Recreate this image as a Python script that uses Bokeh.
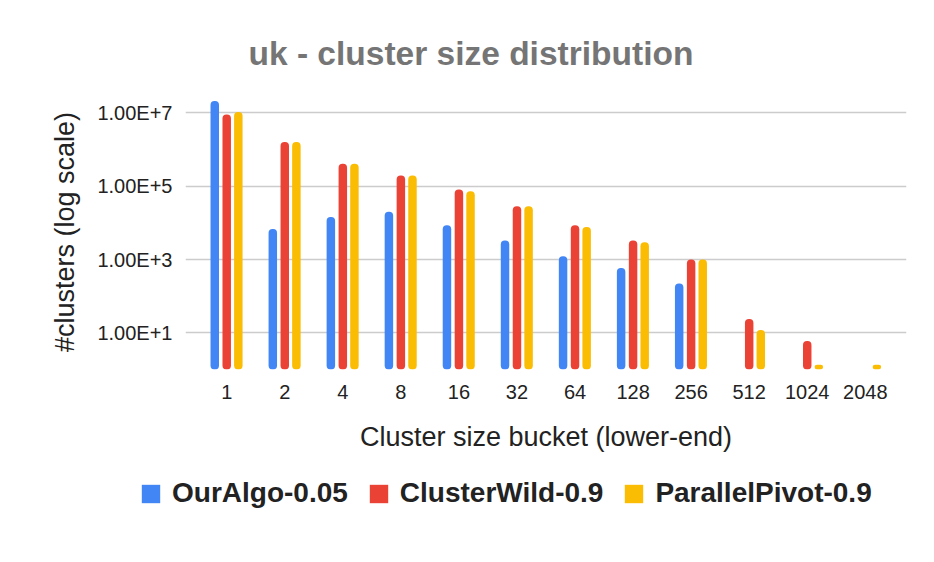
from bokeh.plotting import figure
from bokeh.models import (ColumnDataSource, Range1d, FixedTicker, CustomJSTickFormatter,
                          Legend, LegendItem)
from bokeh.layouts import column
from bokeh.embed import file_html
from bokeh.resources import INLINE

buckets = ["1", "2", "4", "8", "16", "32", "64", "128", "256", "512", "1024", "2048"]
ouralgo = [2.1e7, 6800, 14500, 20000, 8600, 3300, 1230, 590, 221, None, None, None]
clusterwild = [9.0e6, 1.6e6, 4.1e5, 1.96e5, 8.1e4, 2.85e4, 8600, 3300, 1000, 24, 6, None]
parallelpivot = [1.05e7, 1.6e6, 4.1e5, 1.96e5, 7.3e4, 2.85e4, 7700, 2960, 1000, 12, 1.35, 1.35]

series = [("OurAlgo-0.05", ouralgo, "#4285F4", -0.206),
          ("ClusterWild-0.9", clusterwild, "#EA4335", 0.0),
          ("ParallelPivot-0.9", parallelpivot, "#FBBC04", 0.2)]

FONT = "Liberation Sans"

p = figure(width=926, height=470, output_backend="svg", toolbar_location=None,
           y_axis_type="log", x_range=Range1d(-0.71, 11.71), y_range=Range1d(1, 10**7.5),
           min_border_left=185, min_border_top=94, min_border_right=20, min_border_bottom=101,
           title="uk - cluster size distribution")
p.outline_line_color = None
p.background_fill_color = "white"

p.title.text_font = FONT
p.title.text_font_size = "33.5px"
p.title.text_font_style = "bold"
p.title.text_color = "#757575"
p.title.align = "left"
p.title.offset = 63
p.title.standoff = 45

# legend-only figure below the chart
p2 = figure(frame_width=926, frame_height=84, output_backend="svg", toolbar_location=None,
            x_range=Range1d(100, 101), y_range=Range1d(0, 1),
            x_axis_location=None, y_axis_location=None,
            min_border_left=0, min_border_right=0, min_border_top=0, min_border_bottom=0)
p2.grid.visible = False
p2.outline_line_color = None

items = []
for name, vals, color, off in series:
    xs = [i + off for i, v in enumerate(vals) if v is not None]
    tops = [v for v in vals if v is not None]
    src = ColumnDataSource(dict(x=xs, top=tops, bottom=[1] * len(xs)))
    p.vbar(x="x", top="top", bottom="bottom", width=0.146, source=src,
           fill_color=color, line_color=None, border_radius=4)
    r2 = p2.vbar(x="x", top="top", bottom="bottom", width=0.146, source=src,
                 fill_color=color, line_color=None, border_radius=2)
    items.append(LegendItem(label=name, renderers=[r2]))

# axes
p.xaxis.ticker = FixedTicker(ticks=list(range(len(buckets))))
p.xaxis.major_label_overrides = {i: b for i, b in enumerate(buckets)}
p.xaxis.axis_line_color = None
p.xaxis.major_tick_line_color = None
p.xaxis.minor_tick_line_color = None
p.xaxis.major_label_text_font = FONT
p.xaxis.major_label_text_font_size = "20px"
p.xaxis.major_label_text_color = "#222222"
p.xaxis.major_label_standoff = 9
p.xaxis.axis_label = "Cluster size bucket (lower-end)"
p.xaxis.axis_label_text_font = FONT
p.xaxis.axis_label_text_font_size = "27px"
p.xaxis.axis_label_text_font_style = "normal"
p.xaxis.axis_label_text_color = "#222222"
p.xaxis.axis_label_standoff = 20

p.yaxis.ticker = FixedTicker(ticks=[10, 1e3, 1e5, 1e7], minor_ticks=[])
p.yaxis.formatter = CustomJSTickFormatter(code="""
const e = Math.round(Math.log10(tick));
const m = tick / Math.pow(10, e);
return m.toFixed(2) + "E+" + e;
""")
p.yaxis.axis_line_color = None
p.yaxis.major_tick_line_color = None
p.yaxis.minor_tick_line_color = None
p.yaxis.major_label_text_font = FONT
p.yaxis.major_label_text_font_size = "20px"
p.yaxis.major_label_text_color = "#222222"
p.yaxis.major_label_standoff = 7
p.yaxis.axis_label = "#clusters (log scale)"
p.yaxis.axis_label_text_font = FONT
p.yaxis.axis_label_text_font_size = "27px"
p.yaxis.axis_label_text_font_style = "normal"
p.yaxis.axis_label_text_color = "#222222"
p.yaxis.axis_label_standoff = 14

p.xgrid.grid_line_color = None
p.ygrid.grid_line_color = "#cccccc"
p.ygrid.grid_line_width = 1.6

legend = Legend(items=items, orientation="horizontal", location=(139, 45),
                label_text_font=FONT, label_text_font_size="28px",
                label_text_font_style="bold", label_text_color="#222222",
                glyph_width=23, glyph_height=23, label_standoff=10, spacing=19,
                padding=0, margin=0, border_line_color=None, background_fill_alpha=0)
p2.add_layout(legend, "center")

open("out.html", "w").write(file_html(column(p, p2), INLINE))
